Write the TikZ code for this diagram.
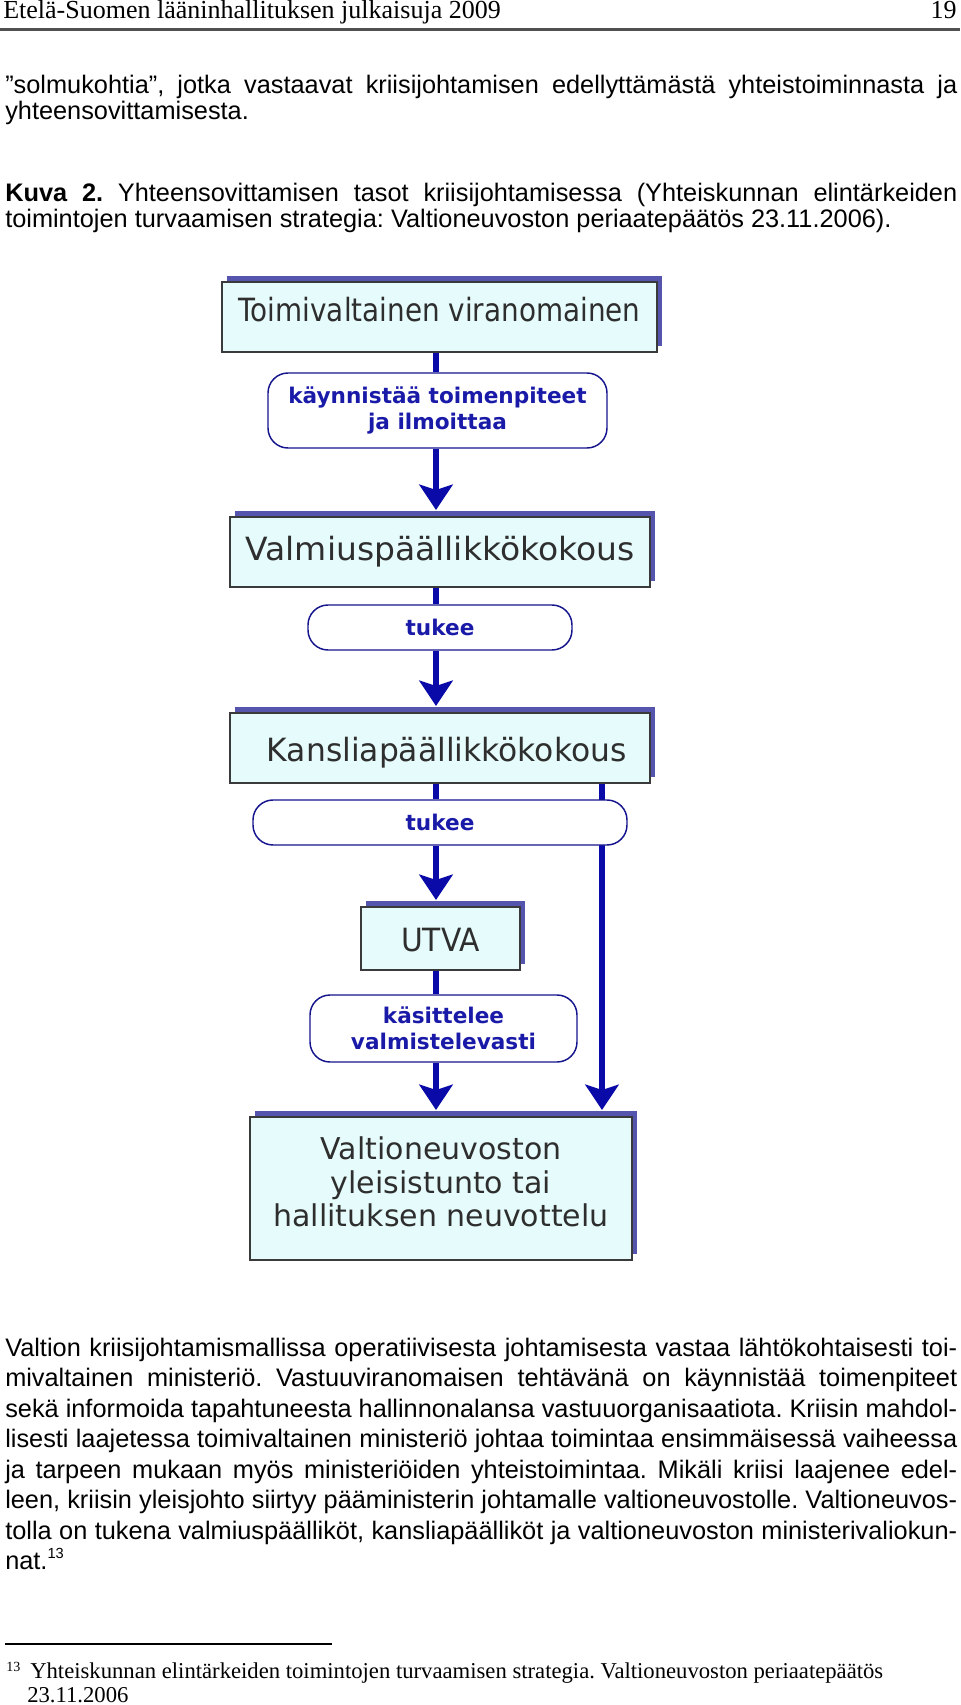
\documentclass[tikz,border=0pt]{standalone}
\usepackage{fontspec}
\setmainfont{Liberation Sans}
\newfontfamily\seriffont{Liberation Serif}
\newfontfamily\verdfont{DejaVu Sans}
\usetikzlibrary{arrows.meta,shadows,backgrounds,calc}
\frenchspacing

\definecolor{boxfill}{HTML}{E6FBFB}
\definecolor{boxline}{HTML}{3A3A3A}
\definecolor{shadowblue}{HTML}{5555AD}
\definecolor{arrowblue}{HTML}{0A0AA8}
\definecolor{ovalblue}{HTML}{14148C}
\definecolor{ovaltext}{HTML}{1A1AA8}
\definecolor{boxtext}{HTML}{2E2E2E}
\definecolor{rulegray}{HTML}{505050}

\tikzset{
 bodyline/.style={anchor=base west, inner sep=0pt, font=\fontsize{19}{23}\selectfont},
 hdr/.style={anchor=base west, inner sep=0pt, font=\seriffont\fontsize{19.5}{23}\selectfont},
 fnline/.style={anchor=base west, inner sep=0pt, font=\seriffont\fontsize{17}{20}\selectfont},
 levelbox/.style={draw=boxline, line width=1.5pt, fill=boxfill, text=boxtext,
   font=\verdfont\fontsize{24}{25}\selectfont, align=center, inner sep=0pt,
   drop shadow={shadow xshift=3.75pt, shadow yshift=4.5pt, fill=shadowblue, opacity=1}},
 actoval/.style={draw=ovalblue, line width=1.1pt, fill=white, rounded corners=15pt,
   text=ovaltext, font=\verdfont\bfseries\fontsize{16.2}{19.8}\selectfont, align=center, inner sep=0pt},
 conn/.style={draw=arrowblue, line width=5pt},
 arr/.style={conn, -{Stealth[length=19pt, width=25pt, inset=4pt]}},
 hdrrule/.style={draw=rulegray, line width=1.6pt},
 fnrule/.style={draw=black, line width=0.8pt},
}

\begin{document}
\begin{tikzpicture}[x=0.75pt,y=-0.75pt]
\useasboundingbox (0,0) rectangle (960,1705);

% header
\node[hdr] (hdrtitle) at (3,19) {Etelä-Suomen lääninhallituksen julkaisuja 2009};
\node[hdr, anchor=base east] (hdrpage) at (957,19) {19};
\coordinate (ruleL) at (0,29.5);
\coordinate (ruleR) at (960,29.5);
\draw[hdrrule] (ruleL) -- (ruleR);

% intro text
\node[bodyline] (introA) at (5,94) {\makebox[714pt][s]{”solmukohtia”, jotka vastaavat kriisijohtamisen edellyttämästä yhteistoiminnasta ja}};
\node[bodyline] (introB) at (5,120) {yhteensovittamisesta.};
\node[bodyline] (capA) at (5,202) {\makebox[714pt][s]{\textbf{Kuva 2.} Yhteensovittamisen tasot kriisijohtamisessa (Yhteiskunnan elintärkeiden}};
\node[bodyline] (capB) at (5,228) {toimintojen turvaamisen strategia: Valtioneuvoston periaatepäätös 23.11.2006).};

% diagram
\node[levelbox, minimum width=326.25pt, minimum height=52.5pt, text height=11pt, text depth=5pt] (auth) at (439.5,317) {\scalebox{0.87}[1]{Toimivaltainen viranomainen}};
\node[actoval, minimum width=254.25pt, minimum height=56.25pt] (start) at (437.5,410.5) {käynnistää toimenpiteet\\ja ilmoittaa};
\node[levelbox, minimum width=315pt, minimum height=52.5pt, text height=17pt, text depth=5pt] (prep) at (440,552) {\scalebox{1.03}[1]{Valmiuspäällikkökokous}};
\node[actoval, minimum width=198pt, minimum height=33.75pt] (supA) at (440,627.5) {tukee};
\node[levelbox, minimum width=315pt, minimum height=52.5pt, text height=25pt, text depth=5pt] (perm) at (440,748) {\hspace*{10pt}\scalebox{0.98}[1]{Kansliapäällikkökokous}};
\node[actoval, minimum width=280.5pt, minimum height=33.75pt] (supB) at (440,822.5) {tukee};
\node[levelbox, minimum width=119.25pt, minimum height=47.25pt, text height=24pt, text depth=5pt] (utva) at (440.5,938.5) {\scalebox{0.93}[1]{UTVA}};
\node[actoval, minimum width=200.25pt, minimum height=50.25pt] (handle) at (443.5,1028.5) {käsittelee\\valmistelevasti};
\node[levelbox, minimum width=286.5pt, minimum height=107.25pt, font=\verdfont\fontsize{22.5}{25}\selectfont, text depth=10pt] (gov) at (441,1188.5) {Valtioneuvoston\\yleisistunto tai\\hallituksen neuvottelu};

\coordinate (cx) at (436,0);
\coordinate (rx) at (602,0);

\begin{scope}[on background layer]
\fill[white] (0,0) rectangle (960,1705);
\draw[conn] (auth.south -| cx) -- (start.north -| cx);
\draw[arr] (start.south -| cx) -- ($(prep.north -| cx)+(0,-6)$);
\draw[conn] (prep.south -| cx) -- (supA.north -| cx);
\draw[arr] (supA.south -| cx) -- ($(perm.north -| cx)+(0,-6)$);
\draw[conn] (perm.south -| cx) -- (supB.north -| cx);
\draw[arr] (supB.south -| cx) -- ($(utva.north -| cx)+(0,-6)$);
\draw[conn] (utva.south -| cx) -- (handle.north -| cx);
\draw[arr] (handle.south -| cx) -- ($(gov.north -| cx)+(0,-6)$);
\draw[arr] (perm.south -| rx) -- ($(gov.north -| rx)+(0,-6)$);
\end{scope}

% body paragraph
\node[bodyline] (pA) at (5,1356) {\makebox[714pt][s]{Valtion kriisijohtamismallissa operatiivisesta johtamisesta vastaa lähtökohtaisesti toi-}};
\node[bodyline] (pB) at (5,1386.5) {\makebox[714pt][s]{mivaltainen ministeriö. Vastuuviranomaisen tehtävänä on käynnistää toimenpiteet}};
\node[bodyline] (pC) at (5,1417) {\makebox[714pt][s]{sekä informoida tapahtuneesta hallinnonalansa vastuuorganisaatiota. Kriisin mahdol-}};
\node[bodyline] (pD) at (5,1447.5) {\makebox[714pt][s]{lisesti laajetessa toimivaltainen ministeriö johtaa toimintaa ensimmäisessä vaiheessa}};
\node[bodyline] (pE) at (5,1478) {\makebox[714pt][s]{ja tarpeen mukaan myös ministeriöiden yhteistoimintaa. Mikäli kriisi laajenee edel-}};
\node[bodyline] (pF) at (5,1508.5) {\makebox[714pt][s]{leen, kriisin yleisjohto siirtyy pääministerin johtamalle valtioneuvostolle. Valtioneuvos-}};
\node[bodyline] (pG) at (5,1539) {\makebox[714pt][s]{tolla on tukena valmiuspäälliköt, kansliapäälliköt ja valtioneuvoston ministerivaliokun-}};
\node[bodyline] (pH) at (5,1569.5) {nat.\raisebox{8pt}{\fontsize{11}{13}\selectfont 13}};

% footnote
\coordinate (fnL) at (5,1644);
\coordinate (fnR) at (332,1644);
\draw[fnrule] (fnL) -- (fnR);
\node[anchor=base west, inner sep=0pt, font=\seriffont\fontsize{10.5}{12}\selectfont] (fnmark) at (6,1671) {13};
\node[fnline] (fnA) at (30,1678) {Yhteiskunnan elintärkeiden toimintojen turvaamisen strategia. Valtioneuvoston periaatepäätös};
\node[fnline] (fnB) at (27,1702) {23.11.2006};
\end{tikzpicture}
\end{document}
